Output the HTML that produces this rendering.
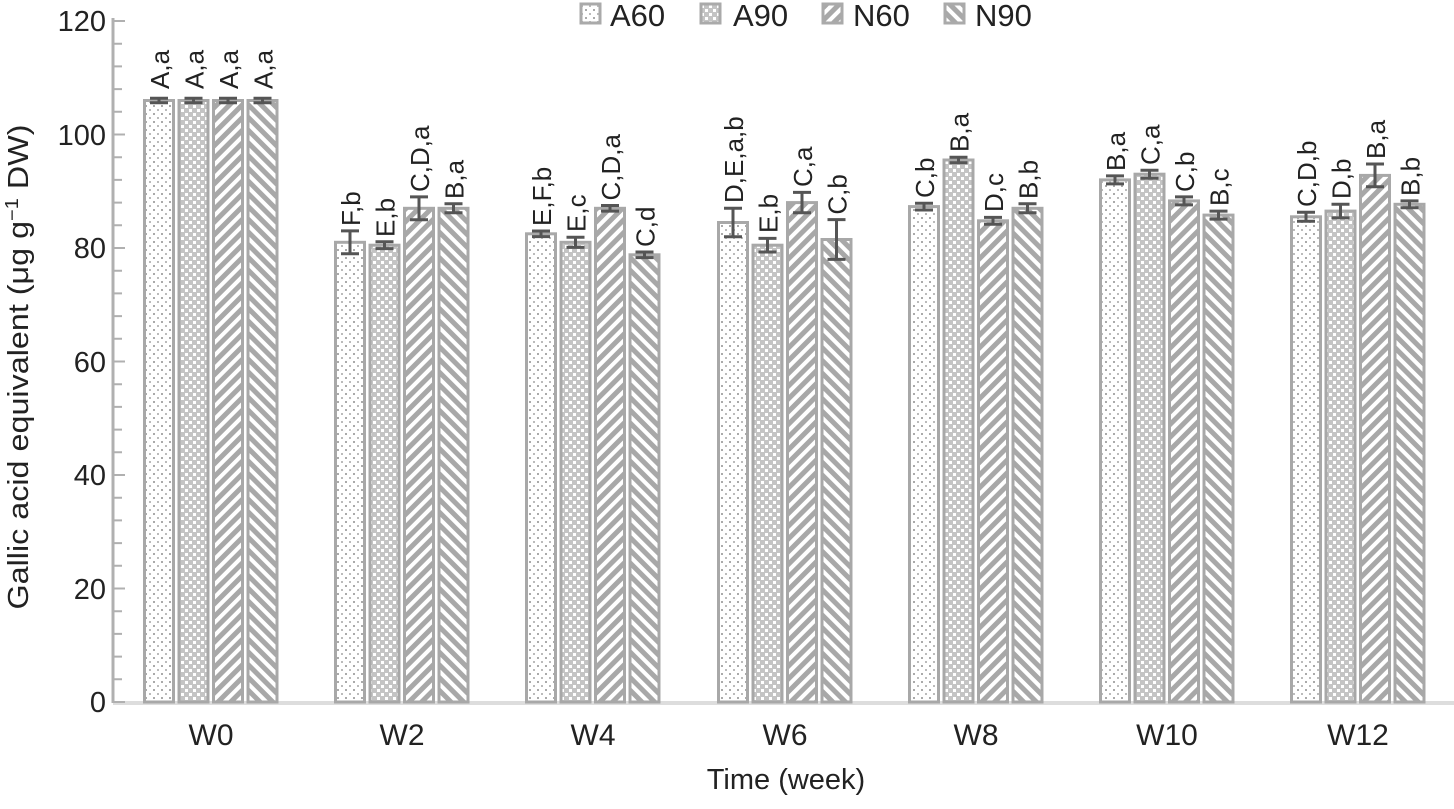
<!DOCTYPE html><html><head><style>body{margin:0;background:#fff}svg text{font-family:"Liberation Sans",Arial,sans-serif;fill:#222}</style></head><body>
<svg width="1454" height="804" xmlns="http://www.w3.org/2000/svg">
<defs>
<pattern id="p0" width="8" height="8" patternUnits="userSpaceOnUse"><rect width="8" height="8" fill="#fff"/><rect x="1" y="1" width="2" height="2" fill="#aaa"/><rect x="5" y="5" width="2" height="2" fill="#bbb"/></pattern>
<pattern id="p1" width="8" height="8" patternUnits="userSpaceOnUse"><rect width="8" height="8" fill="#c4c4c4"/><rect x="1" y="1" width="3" height="3" fill="#fff"/><rect x="5" y="5" width="3" height="3" fill="#fff"/></pattern>
<pattern id="p2" width="9" height="9" patternUnits="userSpaceOnUse" patternTransform="rotate(45)"><rect width="9" height="9" fill="#fff"/><rect width="5" height="9" fill="#a8a8a8"/></pattern>
<pattern id="p3" width="9" height="9" patternUnits="userSpaceOnUse" patternTransform="rotate(-45)"><rect width="9" height="9" fill="#fff"/><rect width="5" height="9" fill="#a8a8a8"/></pattern>
</defs>
<line x1="113" y1="18" x2="113" y2="703" stroke="#b0b0b0" stroke-width="3"/>
<line x1="113" y1="703" x2="1454" y2="703" stroke="#ddd" stroke-width="4"/>
<path stroke="#b0b0b0" stroke-width="2" fill="none" d="M113 702h12M113 679.3h9M113 656.6h9M113 633.9h9M113 611.2h9M113 588.5h12M113 565.8h9M113 543.1h9M113 520.4h9M113 497.7h9M113 475h12M113 452.3h9M113 429.6h9M113 406.9h9M113 384.2h9M113 361.5h12M113 338.8h9M113 316.1h9M113 293.4h9M113 270.7h9M113 248h12M113 225.3h9M113 202.6h9M113 179.9h9M113 157.2h9M113 134.5h12M113 111.8h9M113 89.1h9M113 66.4h9M113 43.7h9M113 21h12"/>
<g font-size="29" text-anchor="end">
<text x="106" y="712">0</text><text x="106" y="599">20</text><text x="106" y="485">40</text><text x="106" y="372">60</text><text x="106" y="258">80</text><text x="106" y="145">100</text><text x="106" y="31">120</text>
</g>
<text transform="translate(28,367) rotate(-90)" font-size="29" text-anchor="middle" textLength="485" lengthAdjust="spacingAndGlyphs">Gallic acid equivalent (μg g<tspan dy="-10" font-size="18">−1</tspan><tspan dy="10"> DW)</tspan></text>
<text x="786" y="789" font-size="29" text-anchor="middle">Time (week)</text>
<g font-size="30" text-anchor="middle">
<text x="211" y="745">W0</text><text x="402" y="745">W2</text><text x="593" y="745">W4</text><text x="785" y="745">W6</text><text x="976" y="745">W8</text><text x="1167" y="745">W10</text><text x="1358" y="745">W12</text>
</g>
<g font-size="31">
<rect x="581" y="4" width="19" height="19" fill="url(#p0)" stroke="#aaa" stroke-width="3"/><text x="610" y="26">A60</text>
<rect x="701" y="4" width="19" height="19" fill="url(#p1)" stroke="#aaa" stroke-width="3"/><text x="733" y="26">A90</text>
<rect x="823" y="4" width="19" height="19" fill="url(#p2)" stroke="#aaa" stroke-width="3"/><text x="853" y="26">N60</text>
<rect x="945" y="4" width="19" height="19" fill="url(#p3)" stroke="#aaa" stroke-width="3"/><text x="975" y="26">N90</text>
</g>
<g stroke="#a8a8a8" stroke-width="3">
<rect x="144.5" y="100.5" width="29" height="601.5" fill="url(#p0)"/><rect x="179" y="100.5" width="29" height="601.5" fill="url(#p1)"/><rect x="213.5" y="100.5" width="29" height="601.5" fill="url(#p2)"/><rect x="248" y="100.5" width="29" height="601.5" fill="url(#p3)"/>
<rect x="335.5" y="242.3" width="29" height="459.7" fill="url(#p0)"/><rect x="370" y="245.2" width="29" height="456.8" fill="url(#p1)"/><rect x="404.5" y="208.3" width="29" height="493.7" fill="url(#p2)"/><rect x="439" y="208.3" width="29" height="493.7" fill="url(#p3)"/>
<rect x="526.5" y="233.8" width="29" height="468.2" fill="url(#p0)"/><rect x="561" y="242.3" width="29" height="459.7" fill="url(#p1)"/><rect x="595.5" y="208.3" width="29" height="493.7" fill="url(#p2)"/><rect x="630" y="254.8" width="29" height="447.2" fill="url(#p3)"/>
<rect x="718.5" y="222.5" width="29" height="479.5" fill="url(#p0)"/><rect x="753" y="245.2" width="29" height="456.8" fill="url(#p1)"/><rect x="787.5" y="202.6" width="29" height="499.4" fill="url(#p2)"/><rect x="822" y="239.5" width="29" height="462.5" fill="url(#p3)"/>
<rect x="909.5" y="206.6" width="29" height="495.4" fill="url(#p0)"/><rect x="944" y="160" width="29" height="542" fill="url(#p1)"/><rect x="978.5" y="220.8" width="29" height="481.2" fill="url(#p2)"/><rect x="1013" y="208.3" width="29" height="493.7" fill="url(#p3)"/>
<rect x="1100.5" y="179.9" width="29" height="522.1" fill="url(#p0)"/><rect x="1135" y="174.2" width="29" height="527.8" fill="url(#p1)"/><rect x="1169.5" y="200.9" width="29" height="501.1" fill="url(#p2)"/><rect x="1204" y="215.1" width="29" height="486.9" fill="url(#p3)"/>
<rect x="1291.5" y="216.8" width="29" height="485.2" fill="url(#p0)"/><rect x="1326" y="211.1" width="29" height="490.9" fill="url(#p1)"/><rect x="1360.5" y="175.4" width="29" height="526.6" fill="url(#p2)"/><rect x="1395" y="204.3" width="29" height="497.7" fill="url(#p3)"/>
</g>
<path stroke="#555" stroke-width="3" fill="none" d="
M150 98.2h18m-9 0v4.6m-9 0h18 M184.5 98.2h18m-9 0v4.6m-9 0h18 M219 98.2h18m-9 0v4.6m-9 0h18 M253.5 98.2h18m-9 0v4.6m-9 0h18
M341 230.9h18m-9 0v22.8m-9 0h18 M375.5 241.8h18m-9 0v6.8m-9 0h18 M410 196.9h18m-9 0v22.8m-9 0h18 M444.5 203.8h18m-9 0v9m-9 0h18
M532 231h18m-9 0v5.6m-9 0h18 M566.5 237.2h18m-9 0v10.2m-9 0h18 M601 205.5h18m-9 0v5.6m-9 0h18 M635.5 252h18m-9 0v5.6m-9 0h18
M724 208.3h18m-9 0v28.4m-9 0h18 M758.5 238.4h18m-9 0v13.6m-9 0h18 M793 192.4h18m-9 0v20.4m-9 0h18 M827.5 219.6h18m-9 0v39.8m-9 0h18
M915 203.2h18m-9 0v6.8m-9 0h18 M949.5 157.2h18m-9 0v5.6m-9 0h18 M984 217.4h18m-9 0v6.8m-9 0h18 M1018.5 203.8h18m-9 0v9m-9 0h18
M1106 175.9h18m-9 0v8m-9 0h18 M1140.5 170.2h18m-9 0v8m-9 0h18 M1175 196.9h18m-9 0v8m-9 0h18 M1209.5 211.1h18m-9 0v8m-9 0h18
M1297 212.3h18m-9 0v9m-9 0h18 M1331.5 204.3h18m-9 0v13.6m-9 0h18 M1366 164h18m-9 0v22.8m-9 0h18 M1400.5 200.9h18m-9 0v6.8m-9 0h18"/>
<g font-size="26">
<text transform="translate(169,89) rotate(-90)">A,a</text><text transform="translate(203.5,89) rotate(-90)">A,a</text><text transform="translate(238,89) rotate(-90)">A,a</text><text transform="translate(272.5,89) rotate(-90)">A,a</text>
<text transform="translate(360,226) rotate(-90)">F,b</text><text transform="translate(394.5,237) rotate(-90)">E,b</text><text transform="translate(429,192) rotate(-90)">C,D,a</text><text transform="translate(463.5,199) rotate(-90)">B,a</text>
<text transform="translate(551,226) rotate(-90)">E,F,b</text><text transform="translate(585.5,232) rotate(-90)">E,c</text><text transform="translate(620,200.5) rotate(-90)">C,D,a</text><text transform="translate(654.5,247) rotate(-90)">C,d</text>
<text transform="translate(743,203) rotate(-90)">D,E,a,b</text><text transform="translate(777.5,233) rotate(-90)">E,b</text><text transform="translate(812,187) rotate(-90)">C,a</text><text transform="translate(846.5,214.6) rotate(-90)">C,b</text>
<text transform="translate(934,198) rotate(-90)">C,b</text><text transform="translate(968.5,152) rotate(-90)">B,a</text><text transform="translate(1003,212) rotate(-90)">D,c</text><text transform="translate(1037.5,199) rotate(-90)">B,b</text>
<text transform="translate(1125,171) rotate(-90)">B,a</text><text transform="translate(1159.5,165) rotate(-90)">C,a</text><text transform="translate(1194,192) rotate(-90)">C,b</text><text transform="translate(1228.5,206) rotate(-90)">B,c</text>
<text transform="translate(1316,207) rotate(-90)">C,D,b</text><text transform="translate(1350.5,199) rotate(-90)">D,b</text><text transform="translate(1385,159) rotate(-90)">B,a</text><text transform="translate(1419.5,196) rotate(-90)">B,b</text>
</g>
</svg></body></html>
